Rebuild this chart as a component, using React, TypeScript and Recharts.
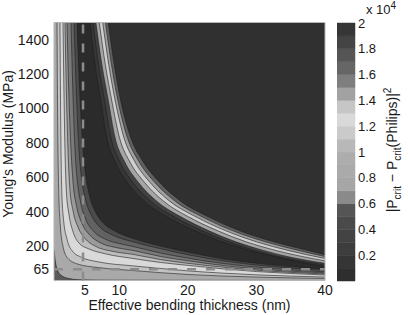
import { ComposedChart, Area, XAxis, YAxis, ReferenceLine, ReferenceArea, BarChart, Bar } from 'recharts'

// contour curves, [thickness nm, modulus MPa]
const L1 = [[0.5, 180], [0.7, 110], [1.0, 62], [1.5, 32], [2.5, 13], [4, 5], [8, 2], [40, 0]]
const L2 = [[0.94, 1500], [1.0, 1100], [1.08, 760], [1.2, 500], [1.4, 330], [1.8, 200], [2.5, 130], [4, 95], [7, 75], [12, 58], [20, 35], [30, 20], [40, 12]]
const L3 = [[1.37, 1500], [1.44, 1100], [1.52, 760], [1.65, 500], [1.9, 350], [2.4, 240], [3.2, 170], [4.5, 135], [7, 108], [12, 85], [16, 70], [20, 56], [25, 43], [30, 33], [40, 20]]
const L4 = [[1.81, 1500], [1.95, 1100], [2.1, 760], [2.3, 520], [2.7, 380], [3.3, 280], [4.2, 215], [5.5, 185], [8, 155], [12, 128], [16, 105], [20, 88], [25, 68], [30, 52], [40, 32]]
const L5 = [[2.1, 1500], [2.3, 1100], [2.54, 760], [2.8, 540], [3.3, 400], [4, 310], [5, 245], [6.5, 200], [9, 170], [12, 152], [16, 122], [20, 100], [25, 78], [30, 60], [40, 38]]
const L6 = [[2.4, 1500], [2.65, 1100], [2.98, 760], [3.3, 560], [3.8, 430], [4.6, 330], [5.7, 265], [7.2, 220], [9.5, 192], [12, 175], [16, 140], [20, 115], [25, 88], [30, 68], [40, 44]]
const L7 = [[2.98, 1500], [3.25, 1100], [3.56, 760], [3.9, 580], [4.4, 450], [5.2, 350], [6.3, 285], [8, 240], [10, 215], [12, 198], [16, 160], [20, 130], [25, 100], [30, 78], [40, 50]]
const L8 = [[3.42, 1500], [3.75, 1100], [4.14, 760], [4.5, 600], [5.1, 470], [6, 375], [7.2, 310], [9, 265], [12, 225], [16, 185], [20, 150], [25, 115], [30, 90], [40, 58]]
const L9 = [[3.85, 1500], [4.25, 1100], [4.73, 760], [5.1, 620], [5.7, 490], [6.6, 395], [7.8, 330], [9.5, 285], [12, 245], [16, 200], [20, 165], [25, 127], [30, 100], [40, 66]]
const R1 = [[5.75, 1500], [6.5, 1250], [7.3, 1050], [8.2, 830], [9.4, 690], [11.2, 570], [13.7, 460], [17, 370], [21, 290], [25, 225], [29, 175], [33, 135], [40, 80]]
const R2 = [[6.2, 1500], [7.0, 1250], [7.85, 1050], [8.8, 830], [10.1, 690], [12, 570], [14.6, 460], [18, 370], [22, 290], [26, 225], [30, 172], [34, 132], [40, 90]]
const R3 = [[6.6, 1500], [7.5, 1250], [8.4, 1050], [9.4, 830], [10.8, 690], [12.8, 570], [15.5, 460], [19, 370], [23, 290], [27, 225], [31, 175], [35, 135], [40, 100]]
const S1 = [[7.1, 1500], [8.0, 1250], [8.9, 1050], [10.05, 830], [11.55, 690], [13.7, 570], [16.5, 460], [20.1, 370], [24.3, 290], [28.5, 225], [32.8, 175], [40, 114]]
const S2 = [[7.6, 1500], [8.5, 1250], [9.4, 1050], [10.7, 830], [12.3, 690], [14.5, 570], [17.4, 460], [21.2, 370], [25.5, 290], [30, 225], [34.6, 175], [40, 128]]
const S3 = [[8.0, 1500], [8.9, 1250], [9.8, 1050], [11.2, 830], [12.9, 690], [15.2, 570], [18.2, 460], [22.1, 370], [26.5, 290], [31.3, 225], [36.1, 175], [40, 139]]
const RT = [[8.4, 1500], [9.3, 1250], [10.2, 1050], [11.7, 830], [13.5, 690], [15.9, 570], [19, 460], [23, 370], [27.5, 290], [32.5, 225], [37.5, 175], [40, 150]]
const FULL = [[0.5, 0], [40, 0]]

const CURVES = [FULL, L1, L2, L3, L4, L5, L6, L7, L8, L9, R1, R2, R3, S1, S2, S3, RT]
const CURVE_FILLS = ['#5a5a5a', '#a9a9a9', '#c3c3c3', '#d9d9d9', '#bdbdbd', '#9a9a9a', '#7a7a7a', '#626262', '#4b4b4b',
    '#2b2b2b', '#363636', '#424242', '#a5a5a5', '#cfcfcf', '#a0a0a0', '#606060', '#303030']

const X_TICKS = [5, 10, 20, 30, 40]
const Y_TICKS = [65, 200, 400, 600, 800, 1000, 1200, 1400]
const REF_X = 4.73
const REF_Y = 65

// colorbar (x 10^4)
const CB_EDGES = [0, 0.1, 0.2, 0.3, 0.4, 0.5, 0.6, 0.7, 0.8, 0.9, 1, 1.1, 1.2, 1.3, 1.4, 1.5, 1.6, 1.7, 1.8, 1.9, 2]
const CB_COLORS = ['#2e2e2e', '#353535', '#3d3d3d', '#434343', '#4a4a4a', '#555555', '#8a8a8a', '#a6a6a6', '#aaaaaa', '#adadad',
    '#b8b8b8', '#cacaca', '#d9d9d9', '#c6c6c6', '#a2a2a2', '#7e7e7e', '#666666', '#555555', '#444444', '#363636']
const CB_TICKS = [0.2, 0.4, 0.6, 0.8, 1, 1.2, 1.4, 1.6, 1.8, 2]

const FONT = "'Liberation Sans', Arial, sans-serif"
const tickStyle = { fontSize: 14, fill: '#1a1a1a', fontFamily: FONT }

function ColorBar() {
    const row: Record<string, number | string> = { name: 'cb' }
    CB_COLORS.forEach((_, i) => {
        row['s' + i] = CB_EDGES[i + 1] - CB_EDGES[i]
    })
    return (
        <BarChart width={68} height={278} data={[row]} margin={{ top: 10, right: 0, bottom: 10, left: 0 }} barCategoryGap={0} barGap={0}>
            <XAxis dataKey="name" type="category" hide />
            <YAxis
                orientation="right"
                type="number"
                domain={[0, 2]}
                ticks={CB_TICKS}
                tickLine={false}
                axisLine={false}
                tickSize={0}
                tickMargin={3}
                width={50}
                tick={{ ...tickStyle, fontSize: 13 }}
            />
            {CB_COLORS.map((c, i) => (
                <Bar key={i} dataKey={'s' + i} stackId="cb" fill={c} stroke={c} strokeWidth={0.5} isAnimationActive={false} />
            ))}
        </BarChart>
    )
}

export default function App() {
    return (
        <div style={{ position: 'fixed', left: 0, top: 0, width: 408, height: 315, background: '#fff', fontFamily: FONT, color: '#1a1a1a' }}>
            <ComposedChart width={408} height={315} margin={{ top: 22.5, right: 83, bottom: 0, left: 0 }}>
                <XAxis
                    dataKey="x"
                    type="number"
                    domain={[0.5, 40]}
                    allowDataOverflow
                    ticks={X_TICKS}
                    tickLine={false}
                    axisLine={false}
                    tickSize={0}
                    tickMargin={5}
                    height={34.5}
                    tick={tickStyle}
                    label={{ value: 'Effective bending thickness (nm)', position: 'insideBottom', offset: 5, fill: '#1a1a1a', fontSize: 14, fontFamily: FONT }}
                />
                <YAxis
                    type="number"
                    domain={[0, 1500]}
                    allowDataOverflow
                    ticks={Y_TICKS}
                    tickLine={false}
                    axisLine={false}
                    tickSize={0}
                    tickMargin={5}
                    width={54}
                    tick={tickStyle}
                />
                {CURVES.map((pts, i) => (
                    <Area
                        key={i}
                        data={pts.map(([x, y]) => ({ x, y }))}
                        dataKey="y"
                        type="monotone"
                        baseValue={1500}
                        fill={CURVE_FILLS[i]}
                        fillOpacity={1}
                        stroke={i === 0 ? 'none' : '#1e1e1e'}
                        strokeWidth={0.6}
                        dot={false}
                        activeDot={false}
                        isAnimationActive={false}
                    />
                ))}
                <ReferenceLine x={REF_X} stroke="#8c8c8c" strokeWidth={2.5} strokeDasharray="9 10" />
                <ReferenceLine y={REF_Y} stroke="#8c8c8c" strokeWidth={2.5} strokeDasharray="9 10" />
                <ReferenceArea x1={0.5} x2={40} y1={0} y2={1500} fill="none" stroke="#b5b5b5" strokeWidth={1} />
            </ComposedChart>

            <div style={{ position: 'absolute', left: 337, top: 12.5 }}>
                <ColorBar />
            </div>

            <div style={{ position: 'absolute', left: 8, top: 144, transform: 'translate(-50%, -50%) rotate(-90deg)', whiteSpace: 'nowrap', fontSize: 14, lineHeight: 1 }}>
                Young's Modulus (MPa)
            </div>
            <div style={{ position: 'absolute', left: 393, top: 150, transform: 'translate(-50%, -50%) rotate(-90deg)', whiteSpace: 'nowrap', fontSize: 14, lineHeight: 1 }}>
                |P<sub style={{ fontSize: 10 }}>crit</sub> − P<sub style={{ fontSize: 10 }}>crit</sub>(Philips)|<sup style={{ fontSize: 10 }}>2</sup>
            </div>
            <div style={{ position: 'absolute', left: 366, top: 1, whiteSpace: 'nowrap', fontSize: 13, lineHeight: 1 }}>
                x 10<sup style={{ fontSize: 10 }}>4</sup>
            </div>
        </div>
    )
}
